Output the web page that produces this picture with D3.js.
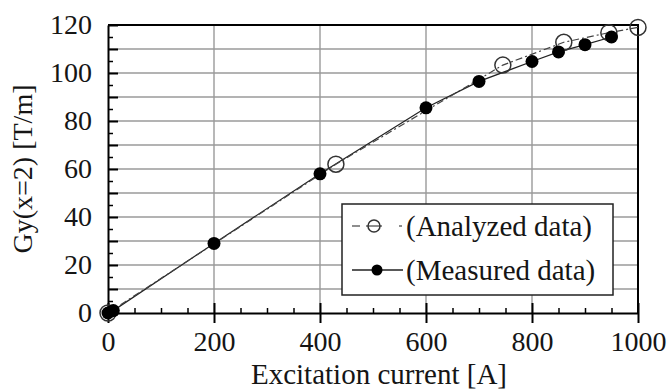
<!DOCTYPE html>
<html>
<head>
<meta charset="utf-8">
<script src="https://cdn.jsdelivr.net/npm/d3@7"></script>
<style>
  html, body { margin: 0; padding: 0; background: #fff; }
  svg { display: block; }
  text { font-family: "Liberation Serif", "Times New Roman", serif; fill: #151515; }
</style>
</head>
<body>
<svg id="chart" width="667" height="390"></svg>
<script>
// Excitation current [A] and field gradient Gy(x=2) [T/m]
const measuredCurrent = [0, 10, 200, 400, 600, 700, 800, 850, 900, 950];
const measuredGy      = [0, 1, 29, 58, 85.5, 96.5, 104.8, 108.8, 111.8, 115];
const analyzedCurrent = [0, 430, 745, 860, 945, 1000];
const analyzedGy      = [0, 62, 103.3, 112.8, 116.8, 119];

const xTicks = [0, 200, 400, 600, 800, 1000];
const yTicks = [0, 20, 40, 60, 80, 100, 120];
const legendLabels = ["(Analyzed data)", "(Measured data)"];

const svg = d3.select("#chart");
const plotLeft = 108, plotRight = 638, plotTop = 25, plotBottom = 313;
const tickFont = 28, titleFont = 29;

const x = d3.scaleLinear().domain([0, 1000]).range([plotLeft, plotRight]);
const y = d3.scaleLinear().domain([0, 120]).range([plotBottom, plotTop]);

// grid
const grid = svg.append("g").attr("stroke", "#9a9a9a").attr("stroke-width", 1.4);
grid.selectAll("line.h").data(d3.range(10, 120, 10)).join("line")
  .attr("class", "h")
  .attr("x1", plotLeft).attr("x2", plotRight)
  .attr("y1", d => y(d)).attr("y2", d => y(d));
grid.selectAll("line.v").data(xTicks.slice(1, -1)).join("line")
  .attr("class", "v")
  .attr("y1", plotTop).attr("y2", plotBottom)
  .attr("x1", d => x(d)).attr("x2", d => x(d));

// frame top / right
svg.append("path")
  .attr("d", `M${plotLeft},${plotTop}H${plotRight}V${plotBottom}`)
  .attr("fill", "none").attr("stroke", "#000").attr("stroke-width", 2);

// y axis: minor ticks every 5, major ticks every 10 crossing the axis
svg.append("g").attr("transform", `translate(${plotLeft},0)`)
  .call(d3.axisLeft(y).tickValues(d3.range(5, 120, 10)).tickSize(-5).tickSizeOuter(0).tickFormat(""))
  .call(g => g.select(".domain").remove())
  .call(g => g.selectAll("line").attr("stroke", "#000").attr("stroke-width", 1.5));

svg.append("g").attr("transform", `translate(${plotLeft},0)`)
  .call(d3.axisLeft(y).tickValues(d3.range(0, 121, 10)).tickSize(8).tickSizeOuter(0).tickPadding(8)
    .tickFormat(d => yTicks.includes(d) ? d3.format("d")(d) : ""))
  .call(g => g.select(".domain").attr("stroke", "#000").attr("stroke-width", 2))
  .call(g => g.selectAll(".tick line").attr("x2", 10).attr("stroke", "#000").attr("stroke-width", 2))
  .call(g => g.selectAll("text").attr("font-size", tickFont).attr("font-family", null).attr("fill", "#151515"));

// x axis: minor ticks every 50, major ticks every 200 crossing the axis
svg.append("g").attr("transform", `translate(0,${plotBottom})`)
  .call(d3.axisBottom(x).tickValues(d3.range(50, 1000, 50).filter(d => d % 200 !== 0)).tickSize(-5).tickSizeOuter(0).tickFormat(""))
  .call(g => g.select(".domain").remove())
  .call(g => g.selectAll("line").attr("stroke", "#000").attr("stroke-width", 1.5));

svg.append("g").attr("transform", `translate(0,${plotBottom})`)
  .call(d3.axisBottom(x).tickValues(xTicks).tickSize(10).tickSizeOuter(0).tickPadding(8)
    .tickFormat(d3.format("d")))
  .call(g => g.select(".domain").attr("stroke", "#000").attr("stroke-width", 2))
  .call(g => g.selectAll(".tick line").attr("y1", -10).attr("stroke", "#000").attr("stroke-width", 2))
  .call(g => g.selectAll("text").attr("font-size", tickFont).attr("font-family", null).attr("fill", "#151515"));

// axis titles
svg.append("text")
  .attr("x", 379).attr("y", 384)
  .attr("text-anchor", "middle").attr("font-size", titleFont)
  .text("Excitation current [A]");
svg.append("text")
  .attr("transform", `translate(32,${(plotTop + plotBottom) / 2}) rotate(-90)`)
  .attr("text-anchor", "middle").attr("font-size", tickFont)
  .text("Gy(x=2) [T/m]");

// data lines
const measured = measuredCurrent.map((c, i) => [c, measuredGy[i]]);
const analyzed = analyzedCurrent.map((c, i) => [c, analyzedGy[i]]);
const line = d3.line().x(d => x(d[0])).y(d => y(d[1]));

svg.append("path").datum(measured).attr("d", line)
  .attr("fill", "none").attr("stroke", "#222").attr("stroke-width", 1.2);
svg.append("path").datum(analyzed).attr("d", line)
  .attr("fill", "none").attr("stroke", "#444").attr("stroke-width", 1.2)
  .attr("stroke-dasharray", "7,3,2,3");

// markers
svg.append("g").selectAll("circle").data(analyzed).join("circle")
  .attr("cx", d => x(d[0])).attr("cy", d => y(d[1])).attr("r", 8)
  .attr("fill", "none").attr("stroke", "#333").attr("stroke-width", 1.5);
svg.append("g").selectAll("circle").data(measured).join("circle")
  .attr("cx", d => x(d[0])).attr("cy", d => y(d[1])).attr("r", 6.5)
  .attr("fill", "#000");

// legend
const lg = svg.append("g");
lg.append("rect").attr("x", 342).attr("y", 204).attr("width", 271).attr("height", 91)
  .attr("fill", "#fff").attr("stroke", "#222").attr("stroke-width", 1.5);
const rowY = [226, 270];
// analyzed entry: dash, open circle, dot
lg.append("line").attr("x1", 352).attr("x2", 360).attr("y1", rowY[0]).attr("y2", rowY[0])
  .attr("stroke", "#444").attr("stroke-width", 1.2);
lg.append("line").attr("x1", 366).attr("x2", 382).attr("y1", rowY[0]).attr("y2", rowY[0])
  .attr("stroke", "#444").attr("stroke-width", 1.2);
lg.append("circle").attr("cx", 374).attr("cy", rowY[0]).attr("r", 6)
  .attr("fill", "none").attr("stroke", "#333").attr("stroke-width", 1.5);
lg.append("line").attr("x1", 399).attr("x2", 402).attr("y1", rowY[0]).attr("y2", rowY[0])
  .attr("stroke", "#444").attr("stroke-width", 1.2);
// measured entry: solid line with filled circle
lg.append("line").attr("x1", 352).attr("x2", 403).attr("y1", rowY[1]).attr("y2", rowY[1])
  .attr("stroke", "#222").attr("stroke-width", 1.5);
lg.append("circle").attr("cx", 377).attr("cy", rowY[1]).attr("r", 5.5).attr("fill", "#000");
lg.selectAll("text").data(legendLabels).join("text")
  .attr("x", 406).attr("y", (d, i) => rowY[i]).attr("dy", "0.33em")
  .attr("font-size", titleFont).text(d => d);
</script>
</body>
</html>
